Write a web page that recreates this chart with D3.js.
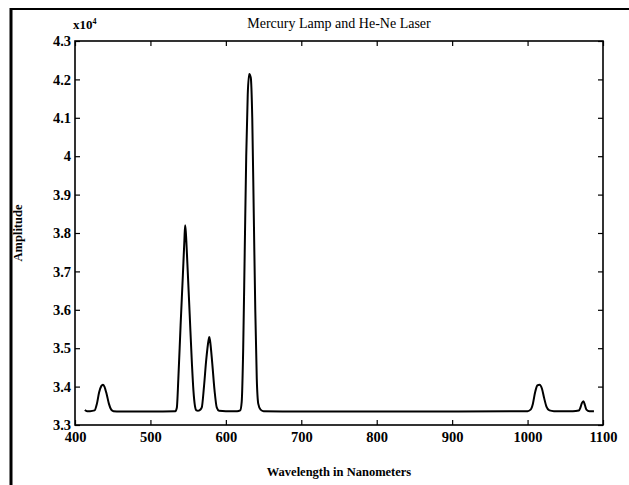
<!DOCTYPE html>
<html>
<head>
<meta charset="utf-8">
<script src="https://cdn.jsdelivr.net/npm/d3@7"></script>
<style>
  html, body { margin: 0; padding: 0; background: #fff; }
  svg { display: block; }
  text { font-family: "Liberation Serif", "Times New Roman", serif; font-weight: bold; fill: #000; }
</style>
</head>
<body>
<script>
// ---- data (amplitude in units of 1e4) ----
const wavelengths = [413, 416, 420, 426, 429, 432, 435, 437, 439, 442, 445, 448, 451, 460,
  500, 533, 535, 537, 540, 543, 545, 546, 547, 549, 552, 555, 557, 559, 561, 563,
  565, 568, 571, 574, 577, 578, 579, 582, 585, 588, 591, 600, 615, 619, 621, 623,
  625, 627, 629, 631, 633, 635, 637, 639, 641, 643, 646, 650, 700, 800, 900, 1000,
  1004, 1007, 1010, 1013, 1016, 1019, 1022, 1025, 1029, 1035, 1060, 1068, 1070,
  1072, 1074, 1076, 1078, 1082, 1088];
const amplitudes = [3.339, 3.336, 3.336, 3.338, 3.355, 3.385, 3.402, 3.405, 3.400, 3.380, 3.355, 3.340, 3.336, 3.335,
  3.335, 3.336, 3.345, 3.420, 3.560, 3.690, 3.780, 3.820, 3.800, 3.720, 3.590, 3.460, 3.390, 3.350, 3.338, 3.337,
  3.338, 3.345, 3.400, 3.470, 3.520, 3.529, 3.520, 3.460, 3.390, 3.345, 3.337, 3.336, 3.336, 3.338, 3.360, 3.500,
  3.750, 4.000, 4.160, 4.214, 4.205, 4.100, 3.850, 3.600, 3.420, 3.355, 3.340, 3.336, 3.335, 3.335, 3.335, 3.336,
  3.340, 3.355, 3.385, 3.403, 3.405, 3.395, 3.370, 3.348, 3.338, 3.336, 3.336, 3.338, 3.345,
  3.357, 3.362, 3.352, 3.340, 3.336, 3.336];
const xTicks = [400, 500, 600, 700, 800, 900, 1000, 1100];
const yTicks = [3.3, 3.4, 3.5, 3.6, 3.7, 3.8, 3.9, 4.0, 4.1, 4.2, 4.3];
const yTickLabels = ["3.3", "3.4", "3.5", "3.6", "3.7", "3.8", "3.9", "4", "4.1", "4.2", "4.3"];
const titleText = "Mercury Lamp and He-Ne Laser";
const xLabel = "Wavelength in Nanometers";
const yLabel = "Amplitude";

// ---- layout ----
const W = 629, H = 485;
const L = 75, R = 603, T = 41, B = 425;

const svg = d3.select("body").append("svg").attr("width", W).attr("height", H);

// outer figure frame (left & top edges visible)
svg.append("line").attr("x1", 10).attr("x2", W).attr("y1", 9).attr("y2", 9)
  .attr("stroke", "#000").attr("stroke-width", 2);
svg.append("line").attr("x1", 11).attr("x2", 11).attr("y1", 8).attr("y2", H)
  .attr("stroke", "#000").attr("stroke-width", 3);

const x = d3.scaleLinear().domain([400, 1100]).range([L, R]);
const y = d3.scaleLinear().domain([3.3, 4.3]).range([B, T]);

const tickLen = 5;

const xAxis = d3.axisBottom(x).tickValues(xTicks).tickSize(-tickLen).tickPadding(7).tickFormat(d3.format("d"));
const gx = svg.append("g").attr("transform", `translate(0,${B})`).call(xAxis);
const gxt = svg.append("g").attr("transform", `translate(0,${T})`)
  .call(d3.axisTop(x).tickValues(xTicks).tickSize(-tickLen).tickFormat(""));
const yAxis = d3.axisLeft(y).tickValues(yTicks).tickSize(-tickLen).tickPadding(4)
  .tickFormat((d, i) => yTickLabels[i]);
const gy = svg.append("g").attr("transform", `translate(${L},0)`).call(yAxis);
const gyr = svg.append("g").attr("transform", `translate(${R},0)`)
  .call(d3.axisRight(y).tickValues(yTicks).tickSize(-tickLen).tickFormat(""));

[gx, gxt, gy, gyr].forEach(g => {
  g.select(".domain").remove();
  g.selectAll(".tick line").attr("stroke", "#000").attr("stroke-width", 1.2);
  g.selectAll(".tick text").style("font-size", "14.5px").style("font-family", "'Liberation Serif', serif")
    .style("font-weight", "bold").attr("fill", "#000");
});
gy.selectAll(".tick text").attr("dy", "0.32em");

// plot box
svg.append("rect").attr("x", L).attr("y", T).attr("width", R - L).attr("height", B - T)
  .attr("fill", "none").attr("stroke", "#000").attr("stroke-width", 1.6);

// curve
const pts = wavelengths.map((w, i) => [w, amplitudes[i]]);
const line = d3.line().x(d => x(d[0])).y(d => y(d[1])).curve(d3.curveMonotoneX);
svg.append("path").datum(pts).attr("d", line)
  .attr("fill", "none").attr("stroke", "#000").attr("stroke-width", 2).attr("stroke-linejoin", "round");

// exponent label
const ex = svg.append("text").attr("x", L - 2).attr("y", 29).style("font-size", "13px");
ex.append("tspan").text("x10");
ex.append("tspan").attr("dy", -5).style("font-size", "8px").text("4");

// title
svg.append("text").attr("x", (L + R) / 2).attr("y", 28).attr("text-anchor", "middle")
  .style("font-size", "14px").style("font-weight", "normal").text(titleText);

// x label
svg.append("text").attr("x", (L + R) / 2).attr("y", 476).attr("text-anchor", "middle")
  .style("font-size", "12.5px").text(xLabel);

// y label
svg.append("text").attr("transform", `translate(22,${(T + B) / 2}) rotate(-90)`).attr("text-anchor", "middle")
  .style("font-size", "12.5px").text(yLabel);
</script>
</body>
</html>
